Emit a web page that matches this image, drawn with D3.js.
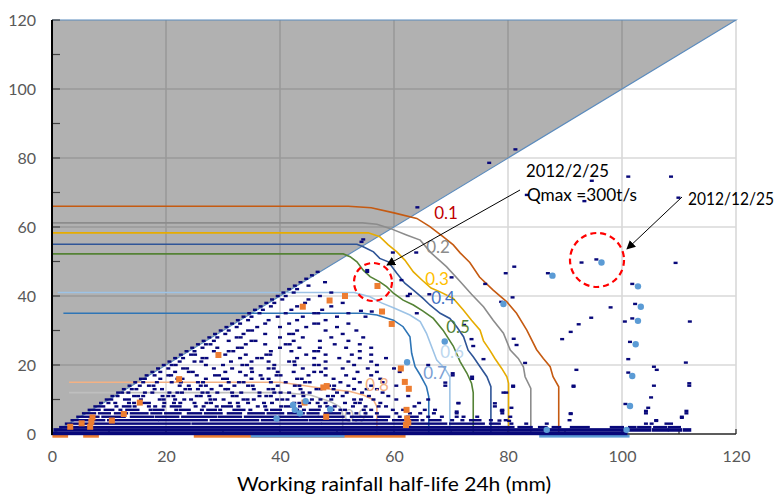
<!DOCTYPE html>
<html>
<head>
<meta charset="utf-8">
<script src="https://cdn.jsdelivr.net/npm/d3@7"></script>
<style>
  body { margin: 0; background: #fff; }
  svg { display: block; }
  text { font-family: Lato, "Open Sans", "Liberation Sans", sans-serif; }
</style>
</head>
<body>
<svg id="chart" width="782" height="495"></svg>
<script>
// ---- data ----
const xTicks = [0, 20, 40, 60, 80, 100, 120]
const yTicks = [0, 20, 40, 60, 80, 100, 120]
const minorTicks = [10, 20, 30, 40, 50, 60, 70, 80, 90, 100, 110, 120]
const shadeArea = [[0, 0], [120, 120], [0, 120]]

const contourLevels = ['0.1', '0.2', '0.3', '0.4', '0.5', '0.6', '0.7', '0.8', '0.9']
const line01 = [[0,66],[52,66],[56,65.6],[60,64.1],[64,62.5],[66.3,60.1],[68.6,57.2],[70.4,54.8],[71.6,52.5],[73.3,49.7],[75,45.5],[77.4,41.7],[79.8,38.3],[81.5,35],[83.3,30.1],[85,24.5],[86.2,21.9],[87.4,19.5],[87.9,16.6],[88.9,13.7],[88.9,0]]
const line02 = [[0,61.2],[54.5,61.2],[57,60.8],[59.3,59.6],[62.2,57.7],[64.6,56.2],[66.5,52.5],[69.2,48.5],[71.6,44.2],[73.6,40.5],[75.7,36.9],[77.4,33],[79.2,29.2],[80.4,24.3],[81.8,21.9],[82.7,19.5],[83,16.6],[84,13.2],[84,0]]
const line03 = [[0,58.3],[55.5,58.3],[57.5,57.2],[59,54.8],[60.5,52.8],[61.9,50.4],[63.4,47],[65,44.5],[66.5,42.3],[68.1,41.2],[70.4,39.3],[72.2,35.9],[73.6,33],[75.1,30.1],[75.7,27],[76.8,24.3],[77.7,21.9],[78.9,19],[79.8,16.6],[80.1,14.7],[80.1,0]]
const line04 = [[0,55],[53.5,55],[54.6,54.3],[56.4,52.8],[57.5,50.9],[59,49.9],[60.5,46.6],[61.9,43.7],[63.4,41.7],[65.1,39.3],[66.3,37.4],[68.1,35],[69.8,33.5],[71,31.1],[72.2,28.2],[73,24.3],[73.9,22.4],[75.1,19.5],[76.3,16.6],[77,13.7],[77,0]]
const line05 = [[0,52.2],[51.1,52.2],[52.3,51.4],[53.5,49.9],[54.6,47.5],[55.8,45.6],[57.5,44.1],[58.7,42.7],[59.9,40.8],[61.6,38.8],[63.4,37.4],[65.1,35.6],[66.9,33.5],[68.6,30.1],[70.4,25.5],[71.6,21],[72.8,17.6],[73.6,14.7],[73.9,12],[73.9,0]]
const line06 = [[1,41],[53,41],[55.8,39.8],[57.8,38],[59.9,36.6],[62.8,34.5],[64.6,32.6],[65.7,29.2],[66.6,25.3],[67.5,21.4],[68.9,19],[69.8,16.6],[69.8,0]]
const line07 = [[2,35],[54.6,35],[57,34.5],[59.9,33],[61.6,31.1],[62.8,28.2],[63.1,23.4],[63.7,19.5],[64.6,17.1],[65.7,13.7],[66.1,10.8],[66.1,0]]
const line08 = [[3,15],[40,15],[43.5,14.2],[47.6,13.2],[52.3,12.3],[54.6,11.3],[56.4,9.9],[57,7.9],[57,0]]
const line09 = [[3,12],[40.5,12],[45.3,11.3],[48.8,9.4],[50.5,7.9],[51,6],[51,0]]
const contourLines = [line01, line02, line03, line04, line05, line06, line07, line08, line09]
const lineColors = ['#c55a11', '#8c8c8c', '#e6ac00', '#2f5597', '#548235', '#9dc3e6', '#2e75b6', '#f4b183', '#bfbfbf']
const labelColors = ['#c00000', '#8c8c8c', '#ffc000', '#4472c4', '#548235', '#bdd7ee', '#7ca0d4', '#f4b183', '#bfbfbf']
const labelPos = [[446, 213], [438, 247], [437, 279], [443, 298], [458, 327], [452, 352], [435, 373], [377, 385], [356, 416]]

// navy observations, one row per 1 mm of rainfall; "a-b" = dense run
const navyRows = [
  [0, '0.2-100.6'],
  [1, '0.6-100.2 101.4-104.8 105.6-107.8 108.4-110.2 111-111.8'],
  [2, '1.6-62 62.8-78 78.6-80.8 82-84 85.6-86.6 88-89 91.2-94 98.2-100 101.4-102.2 103-104.8 105.8-107.6 108.4-110'],
  [3, '2.6-24 24.8-47 47.6-61.8 63-69 70-75.6 77-78.4 80.6 83.2 86.8 104.2 105.2 107.8-108.6'],
  [4, '3.6-9 10-18.4 19-27 28-36 37-44.6 45.4-52 53-58.6 60-64 65 66.4-68 70.2 72 73.5-75 77 79.6 90.8 106'],
  [5, '4.6-8 9-12.6 14-17.6 18.4-22 23-28.6 29.4-33 34-39 40-46.4 47-51 52.6-56 57.4-59 61 62.4-64 66 68.4 71 72.2 74.6 80.4 110.5'],
  [6, '5.6-7.4 8.4-10 11.2-13 14-16.6 17.6-19 20-22.4 24-26 27-29.6 31-33 34.6-37 38-40.4 41.6-44 45-46.6 48-50.4 52 53.4 55 57 60.4 62.8 64.6 67 71 79 91 104.2 111.3'],
  [7, '6.6-8.2 9.4-10.6 12 13.2-15 17.3 18-19.4 21.8 22.6-24 26.3 27.4-28.6 29.5 32-33.6 34.8 37.6 38.6-40 43 44.2 45.4-46.8 49.2 50.6 51.4 54.7 56 59.8 61.6 65.4 67.2 79'],
  [8, '7.6-9 11.3 12.6-13.6 14.5 17 18.1 19.6 21-22.4 25.2 26.6 28.9 30-31.4 32.7 36.1 37.4 40.2 41-42.4 43.5 47 48.3 49.6 52.8 55 57.3 58.6 63.6 77.7'],
  [9, '8.6 9.9 11.1 13.5 14.4 16-17 19.7 21.4 22.5 25 27.1 27.9 31.2 32.6 34.4 37.2 38.6 42.5 43.4 45.1 46.6 48 51.4 53.2 54 57.6 64.4 71.3'],
  [10, '9.6-10.4 12.8 13.5 15.6 18.9 19.6 21.6 23.2 24.4 27.8 28.6 30.1 33.6 34.3 35.4 39.5 40.4 41.3 45.6 47.1 49 53 54.2 56.4 60.4 66'],
  [11, '10.6 11.5 14.4 15.1 16 19.4 20.4 21.3 25.4 26.1 27.6 31.7 32.4 36.4 37.6 38.4 42.4 44.1 48.4 49.3 51 55.6 59 62.5'],
  [12, '11.6 12.3 13.4 16.3 17.6 20.6 22 22.8 26.4 27.3 29 31.6 33.2 36.4 39 40.1 41.6 44 45.2 50 51.7 54.4 58 79.2 79.7'],
  [13, '12.6 14 14.8 18 19.3 23.4 24.2 25.6 28 30.4 30.9 35.4 38 38.8 43.6 46.4 47.1 49.4 53 55.2 57'],
  [14, '13.6 15.4 17 17.8 22.4 24 26.1 27 29.6 32 34.4 35.2 39.6 42.6 43.4 48.6 49.5 52 56 60.4 69 80.9 91.5 105.6 111.8'],
  [15, '14.6 16 18.4 21 22.6 25.6 26.5 31 32.8 33.6 38.4 41 44.4 45.2 50.6 54 58'],
  [16, '15.6 16.3 19 22 22.9 27 30 30.7 35 36.9 38 43 43.8 49.4 53 57.6 73.7'],
  [17, '16.6 18 20.4 20.9 25.4 28.6 29.3 34 36.6 39.4 40.1 45 48 51.6 56 70.3'],
  [18, '17.6 19 21.6 24 24.7 30.4 33 35.1 39.6 42.4 46 47.2 53.6 57 61'],
  [19, '18.6 20.4 23 23.7 28.4 31.6 35 38 38.9 44 48 51 55.4 60'],
  [20, '19.6 21 21.7 27 30 33.4 34.2 39 42.6 46 46.8 53 57 66'],
  [21, '20.6 22.4 25 26.2 31.4 35 38 41.6 42.5 48 52 56'],
  [22, '21.6 23 26.4 27.1 33 36 36.8 43 46 50.4 54 58.6'],
  [23, '22.6 24.4 25.1 30.4 34 37.6 38.3 44.6 48 52.6 56'],
  [24, '23.6 25 28.4 31 31.8 38.4 42 46 46.7 54'],
  [25, '24.6 26.4 29 32.6 33.3 40 43.4 47 51.6 56'],
  [26, '25.6 27 27.8 34 37.4 41 41.7 49.6 54'],
  [27, '26.6 28.4 31 35 35.7 42.4 47 52'],
  [28, '27.6 29 32.4 33.1 40 44 49 54.6'],
  [29, '28.6 30.4 33.6 37.4 41.6 42.3 51'],
  [30, '29.6 31 34.4 35.1 43 48 53.4'],
  [31, '30.6 32.4 36 40 44.6 50'],
  [32, '31.6 33 37.4 41.6 46 46.7 52'],
  [33, '32.6 34.4 38 43 48'],
  [34, '33.6 35 39.6 44 50 55'],
  [35, '34.6 36.4 41 46 46.7 52'],
  [36, '35.6 37 42 47.4'],
  [37, '36.6 38.4 43 49'],
  [38, '37.6 39 44.4 51'],
  [39, '38.6 40.4 45'],
  [40, '39.6 41 47'],
  [41, '40.6 42.4 49'],
  [42, '41.6 43'],
  [43, '42.6 45'],
  [44, '43.6 47.9'],
  [45, '44.6'],
  [46, '45.6'],
  [47, '46.6 55.3']
]
// scattered navy observations away from the dense band
const sparsePts = [[81.3,82.5],[76.7,78.6],[64.1,65.7],[94.7,73.4],[101.1,74.6],[108.6,74.6],[109.9,68.5],[93.4,67.5],[83.3,69.3],
  [92.9,49.7],[95.5,50.6],[81.1,48.5],[79.6,46.6],[87,46.6],[80.8,39.6],[78.8,38.3],[101.8,43.5],[109.4,49.6],[102.3,37.7],
  [98,36.7],[94.6,33.7],[92.4,31.8],[100.5,32.6],[101.8,33.5],[111.9,32.6],[91,29.6],[89.5,27.5],[81,27.6],[81.5,25.8],
  [83,20.6],[92,18.6],[91.5,13.7],[91,5.8],[80.9,13.7],[80.6,7.6],[80.2,3.8],[101.4,26.7],[101.1,21.7],[101.1,17.8],
  [100.6,8.7],[111.2,20.7],[111.8,14.7],[111.3,6.7],[110.5,4.7],[105.6,19.5],[106.1,18.6],[105.1,10.6],[104.6,7.6],
  [104.2,6.7],[106,3.8],[79,6.7],[54.6,56.4],[54.3,55.7],[59.8,52.6],[63.9,52.6],[55.3,47.5],[61.3,44.6],[62.8,40.6],
  [62.4,40],[66.2,40.5],[70.1,45.4],[64,35],[54.2,35.7],[56.1,35.5],[76,43.5],[72.3,31.6],[73.6,27.5],[73.9,25.5],
  [75.7,21.7],[70.3,17.6],[69,14.9],[73.7,16.6],[77.7,8.9],[78.9,6.8],[78.5,3.9],[71.3,8.9],[71,6.5]]

const orangePts = [[57.1,42.9],[51.4,40],[48.7,38.7],[44,36.9],[57.9,35.5],[59.6,31.9],[61.2,19],[61.9,15.1],[62.6,13.1],
  [62.2,7],[62.3,4.5],[62.1,2.6],[62.5,3.3],[47.6,13.5],[48.2,13.9],[44.3,9.1],[48.1,5],[29.2,22.9],[22.3,15.9],
  [15.4,9.1],[12.6,5.8],[7.1,4.8],[6.9,3.6],[5.2,3.1],[10.5,3.9],[3.2,2.1],[6.7,2.1]]
const orangeZeroRuns = [[0.6, 2.3], [6, 7.7], [25.4, 61.5]]

const bluePts = [[96.4,49.7],[87.8,45.9],[102.8,42.8],[103.3,36.9],[102.8,32.8],[102.4,26],[101.8,16.8],[101.4,8.1],
  [86.8,1.2],[100.8,1.2],[79.2,37.7],[68.9,26.8],[62.3,20.8],[42.3,8.4],[42.6,7],[48.8,7.2],[39.4,4.5],[44.5,9.5],[43.5,6]]
const blueZeroRuns = [[35.4, 50.8], [86, 100.8]]

// ---- scales ----
const svg = d3.select('#chart')
const x = d3.scaleLinear().domain([0, 120]).range([52, 736])
const y = d3.scaleLinear().domain([0, 120]).range([434, 20])

// grid
svg.append('g').selectAll('line')
  .data(xTicks.slice(1)).join('line')
  .attr('x1', d => x(d)).attr('x2', d => x(d))
  .attr('y1', y(0)).attr('y2', y(120))
  .attr('stroke', '#d9d9d9').attr('stroke-width', 1.6)
svg.append('g').selectAll('line')
  .data(yTicks.slice(1, -1)).join('line')
  .attr('x1', x(0)).attr('x2', x(120))
  .attr('y1', d => y(d)).attr('y2', d => y(d))
  .attr('stroke', '#d9d9d9').attr('stroke-width', 1.6)

// shaded (impossible) region above y = x
const path = d3.line().x(d => x(d[0])).y(d => y(d[1]))
svg.append('path')
  .attr('d', path(shadeArea) + 'Z')
  .attr('fill', '#333').attr('fill-opacity', 0.38)
svg.append('path')
  .attr('d', path([[0, 0], [120, 120], [0, 120]]))
  .attr('fill', 'none').attr('stroke', '#5b8bbd').attr('stroke-width', 1.1)

// bottom bars (points sitting on zero)
svg.append('g').selectAll('rect')
  .data(orangeZeroRuns).join('rect')
  .attr('x', d => x(d[0]) - 3).attr('width', d => x(d[1]) - x(d[0]) + 6)
  .attr('y', y(0) + 0.5).attr('height', 3.2)
  .attr('fill', '#ed7d31')
svg.append('g').selectAll('rect')
  .data(blueZeroRuns).join('rect')
  .attr('x', d => x(d[0]) - 3).attr('width', d => x(d[1]) - x(d[0]) + 6)
  .attr('y', y(0) + 0.8).attr('height', 2.8)
  .attr('fill', '#5b9bd5')

// axes lines and ticks
svg.append('line')
  .attr('x1', x(0)).attr('x2', x(120)).attr('y1', y(0)).attr('y2', y(0))
  .attr('stroke', '#262626').attr('stroke-width', 1.5)
svg.append('g').selectAll('line')
  .data(minorTicks).join('line')
  .attr('x1', d => x(d)).attr('x2', d => x(d))
  .attr('y1', y(0)).attr('y2', y(0) - 5)
  .attr('stroke', '#262626').attr('stroke-width', 1.2)
svg.append('g').selectAll('line')
  .data(minorTicks).join('line')
  .attr('x1', x(0)).attr('x2', x(0) + 8)
  .attr('y1', d => y(d)).attr('y2', d => y(d))
  .attr('stroke', '#404040').attr('stroke-width', 1.2)

// contour lines
svg.append('g').selectAll('path')
  .data(contourLines).join('path')
  .attr('d', d => path(d))
  .attr('fill', 'none')
  .attr('stroke', (d, i) => lineColors[i])
  .attr('stroke-width', 1.6)

// the 0.9 label sits under the observations, the others above them
function drawLabels(levels) {
  svg.append('g').selectAll('text')
    .data(levels).join('text')
    .attr('x', d => labelPos[contourLevels.indexOf(d)][0])
    .attr('y', d => labelPos[contourLevels.indexOf(d)][1] + 6)
    .attr('text-anchor', 'middle')
    .attr('font-size', 17)
    .attr('fill', d => labelColors[contourLevels.indexOf(d)])
    .text(d => d)
}
drawLabels(contourLevels.slice(8))

// navy observations
const runs = []
const dashes = []
navyRows.forEach(([yy, s]) => s.split(' ').forEach(tok => {
  if (tok.includes('-')) {
    const [a, b] = tok.split('-').map(Number)
    runs.push({ y: yy, a, b })
  } else {
    dashes.push({ x: +tok, y: yy })
  }
}))
sparsePts.forEach(p => dashes.push({ x: p[0], y: p[1] }))

const navy = '#08087a'
svg.append('g').selectAll('rect')
  .data(runs).join('rect')
  .attr('x', d => x(d.a) - 2)
  .attr('width', d => x(d.b) - x(d.a) + 4)
  .attr('y', d => y(d.y) - (d.y <= 1 ? 2.4 : 1.2))
  .attr('height', d => d.y <= 1 ? 3.6 : 2.4)
  .attr('fill', navy)
svg.append('g').selectAll('rect')
  .data(dashes).join('rect')
  .attr('x', d => x(d.x) - 2).attr('width', 4)
  .attr('y', d => y(d.y) - 1.2).attr('height', 2.4)
  .attr('fill', navy)

drawLabels(contourLevels.slice(0, 8))

// orange and blue events
svg.append('g').selectAll('rect')
  .data(orangePts).join('rect')
  .attr('x', d => x(d[0]) - 3).attr('y', d => y(d[1]) - 3)
  .attr('width', 6).attr('height', 6)
  .attr('fill', '#ed7d31')
svg.append('g').selectAll('circle')
  .data(bluePts).join('circle')
  .attr('cx', d => x(d[0])).attr('cy', d => y(d[1]))
  .attr('r', 3.2)
  .attr('fill', '#5b9bd5')

// y axis line
svg.append('line')
  .attr('x1', x(0)).attr('x2', x(0)).attr('y1', y(0) + 1).attr('y2', y(120))
  .attr('stroke', '#000').attr('stroke-width', 2)

// tick labels
const xAxis = svg.append('g')
  .attr('transform', `translate(0,${y(0)})`)
  .call(d3.axisBottom(x).tickValues(xTicks).tickSize(0).tickPadding(17))
const yAxis = svg.append('g')
  .attr('transform', `translate(${x(0)},0)`)
  .call(d3.axisLeft(y).tickValues(yTicks).tickSize(0).tickPadding(16))
;[xAxis, yAxis].forEach(a => {
  a.select('.domain').remove()
  a.selectAll('text')
    .attr('font-family', 'Lato, "Open Sans", sans-serif')
    .attr('font-size', 16).attr('fill', '#595959')
})

svg.append('text')
  .attr('x', 394).attr('y', 491)
  .attr('text-anchor', 'middle')
  .attr('font-size', 19).attr('fill', '#000')
  .attr('textLength', 314).attr('lengthAdjust', 'spacingAndGlyphs')
  .text('Working rainfall half-life 24h (mm)')

// annotations
svg.append('defs').append('marker')
  .attr('id', 'arrow')
  .attr('viewBox', '0 0 10 10')
  .attr('refX', 9).attr('refY', 5)
  .attr('markerWidth', 9).attr('markerHeight', 9)
  .attr('markerUnits', 'userSpaceOnUse')
  .attr('orient', 'auto')
  .append('path').attr('d', 'M0,0L10,5L0,10Z').attr('fill', '#000')

const arrows = [[[520, 190], [387, 265]], [[682, 197], [627, 249]]]
svg.append('g').selectAll('line')
  .data(arrows).join('line')
  .attr('x1', d => d[0][0]).attr('y1', d => d[0][1])
  .attr('x2', d => d[1][0]).attr('y2', d => d[1][1])
  .attr('stroke', '#000').attr('stroke-width', 1)
  .attr('marker-end', 'url(#arrow)')

const circles = [[373, 282, 19], [597, 260, 27]]
svg.append('g').selectAll('circle')
  .data(circles).join('circle')
  .attr('cx', d => d[0]).attr('cy', d => d[1]).attr('r', d => d[2])
  .attr('fill', 'none').attr('stroke', '#ff0000')
  .attr('stroke-width', 2.2).attr('stroke-dasharray', '6,4')

const notes = [['2012/2/25', 526, 177, 83], ['Qmax =300t/s', 527, 201, 110], ['2012/12/25', 688, 205, 86]]
svg.append('g').selectAll('text')
  .data(notes).join('text')
  .attr('x', d => d[1]).attr('y', d => d[2])
  .attr('font-size', 18).attr('fill', '#000')
  .attr('textLength', d => d[3]).attr('lengthAdjust', 'spacingAndGlyphs')
  .text(d => d[0])
</script>
</body>
</html>
